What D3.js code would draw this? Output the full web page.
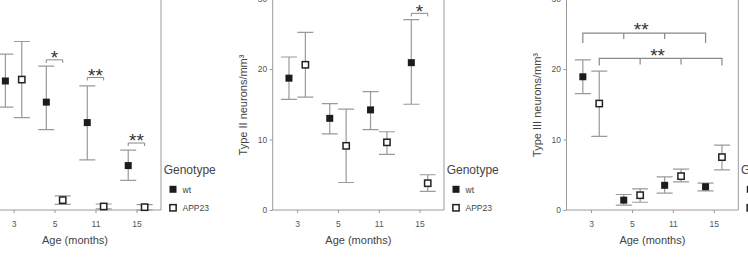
<!DOCTYPE html>
<html>
<head>
<meta charset="utf-8">
<script src="https://cdn.jsdelivr.net/npm/d3@7"></script>
<style>
  body { margin: 0; background: #fff; }
  svg { display: block; font-family: "Liberation Sans", Arial, sans-serif; }
</style>
</head>
<body>
<script>
'use strict';
// categories
const ages = ['3', '5', '11', '15'];
const genotypes = ['wt', 'APP23'];
const yTicks = [0, 10, 20, 30];

// Type I (panel partly cut off on the left)
const typeIWtMean = [18.3, 15.3, 12.4, 6.3];
const typeIWtLo = [14.6, 11.4, 7.1, 4.2];
const typeIWtHi = [22.1, 20.4, 17.6, 8.5];
const typeIAppMean = [18.5, 1.4, 0.5, 0.4];
const typeIAppLo = [13.1, 0.8, 0.15, 0.0];
const typeIAppHi = [23.9, 2.0, 0.85, 0.75];

// Type II
const typeIIWtMean = [18.7, 13.0, 14.2, 20.9];
const typeIIWtLo = [15.7, 10.8, 11.4, 15.0];
const typeIIWtHi = [21.7, 15.1, 16.8, 27.0];
const typeIIAppMean = [20.6, 9.1, 9.6, 3.8];
const typeIIAppLo = [16.0, 3.9, 7.9, 2.65];
const typeIIAppHi = [25.2, 14.3, 11.1, 5.0];

// Type III
const typeIIIWtMean = [18.9, 1.4, 3.5, 3.3];
const typeIIIWtLo = [16.5, 0.7, 2.4, 2.7];
const typeIIIWtHi = [21.3, 2.2, 4.7, 3.8];
const typeIIIAppMean = [15.1, 2.1, 4.8, 7.5];
const typeIIIAppLo = [10.45, 1.1, 4.0, 5.7];
const typeIIIAppHi = [19.7, 3.0, 5.8, 9.2];

// significance marks (bracket height in data units)
const typeISig = [{age: '5', label: '*', y: 21.3}, {age: '11', label: '**', y: 18.8}, {age: '15', label: '**', y: 9.5}];
const typeIISig = [{age: '15', label: '*', y: 27.9}];
const typeIIIGroupSig = [{genotype: 'wt', label: '**', y: 25.1}, {genotype: 'APP23', label: '**', y: 21.5}];

function series(mean, lo, hi){
  return ages.map((a, i) => ({age: a, mean: mean[i], lo: lo[i], hi: hi[i]}));
}

// the first panel's y axis lies outside the picture, so its labels are not drawn
const panels = [
  {left: -11, right: 161, title: 'Type I neurons/mm\u00b3', showY: false,
   wt: series(typeIWtMean, typeIWtLo, typeIWtHi), app: series(typeIAppMean, typeIAppLo, typeIAppHi),
   pairSig: typeISig, groupSig: []},
  {left: 272.7, right: 444, title: 'Type II neurons/mm\u00b3', showY: true,
   wt: series(typeIIWtMean, typeIIWtLo, typeIIWtHi), app: series(typeIIAppMean, typeIIAppLo, typeIIAppHi),
   pairSig: typeIISig, groupSig: []},
  {left: 566.5, right: 738.3, title: 'Type III neurons/mm\u00b3', showY: true,
   wt: series(typeIIIWtMean, typeIIIWtLo, typeIIIWtHi), app: series(typeIIIAppMean, typeIIIAppLo, typeIIIAppHi),
   pairSig: [], groupSig: typeIIIGroupSig},
];

const svg = d3.select(document.body).append('svg')
  .attr('width', 748).attr('height', 259);

const y = d3.scaleLinear().domain([0, 30]).range([210, -1.5]);
const dodge = {wt: -8.2, APP23: 8.2};
const grey = '#9a9a9a';

panels.forEach(drawPanel);

function stars(g, cx, yy, label){
  g.append('text').attr('x', cx).attr('y', yy + 4.3)
    .attr('text-anchor', 'middle').attr('fill', '#333').style('font-size', '19px')
    .text(label);
}

function drawPanel(p){
  const g = svg.append('g');
  const x = d3.scalePoint().domain(ages).range([p.left, p.right]).padding(0.6);
  const base = y(0);

  // frame: left, bottom, right (top is above the picture)
  g.append('path')
    .attr('d', `M${p.left},-20V${base}H${p.right}V-20`)
    .attr('fill', 'none').attr('stroke', grey).attr('stroke-width', 1);

  const axes = [];
  if (p.showY) {
    axes.push(g.append('g')
      .attr('transform', `translate(${p.left},0)`)
      .call(d3.axisLeft(y).tickValues(yTicks).tickSize(3).tickPadding(2.5)));
    g.append('text')
      .attr('transform', `translate(${p.left - 26},105) rotate(-90)`)
      .attr('text-anchor', 'middle').attr('fill', '#444').style('font-size', '11px')
      .text(p.title);
  }
  axes.push(g.append('g')
    .attr('transform', `translate(0,${base})`)
    .call(d3.axisBottom(x).tickSize(3).tickPadding(7.5)));
  axes.forEach(a => {
    a.select('.domain').remove();
    a.selectAll('.tick line').attr('stroke', grey);
    a.selectAll('.tick text').attr('fill', '#555').style('font-size', '8.5px')
      .style('font-family', '"Liberation Sans", Arial, sans-serif');
  });

  g.append('text')
    .attr('x', (p.left + p.right) / 2).attr('y', 244)
    .attr('text-anchor', 'middle').attr('fill', '#444').style('font-size', '11px')
    .text('Age (months)');

  // error bars, then markers on top
  [['wt', p.wt], ['APP23', p.app]].forEach(([gt, data]) => {
    const cx = d => x(d.age) + dodge[gt];
    const bars = g.append('g').attr('stroke', grey).attr('stroke-width', 1.2).attr('fill', 'none');
    bars.selectAll('path').data(data).enter().append('path')
      .attr('d', d => `M${cx(d)},${y(d.lo)}V${y(d.hi)}M${cx(d) - 8},${y(d.lo)}h16M${cx(d) - 8},${y(d.hi)}h16`);
  });
  [['wt', p.wt], ['APP23', p.app]].forEach(([gt, data]) => {
    const cx = d => x(d.age) + dodge[gt];
    const s = gt === 'wt' ? 7 : 6.3;
    g.append('g').selectAll('rect').data(data).enter().append('rect')
      .attr('x', d => cx(d) - s / 2).attr('y', d => y(d.mean) - s / 2)
      .attr('width', s).attr('height', s)
      .attr('fill', gt === 'wt' ? '#1c1c1c' : '#fff')
      .attr('stroke', gt === 'wt' ? 'none' : '#222')
      .attr('stroke-width', 1.5);
  });

  // pairwise brackets
  p.pairSig.forEach(s => {
    const x1 = x(s.age) + dodge.wt, x2 = x(s.age) + dodge.APP23, yy = y(s.y);
    g.append('path').attr('d', `M${x1},${yy + 3}V${yy}H${x2}V${yy + 3}`)
      .attr('fill', 'none').attr('stroke', '#888').attr('stroke-width', 1);
    stars(g, (x1 + x2) / 2, yy, s.label);
  });

  // group brackets across ages
  p.groupSig.forEach((s, i) => {
    const xs = ages.map(a => x(a) + dodge[s.genotype]);
    const yy = y(s.y), drop = i === 0 ? 10 : 7;
    let d = `M${xs[0]},${yy + drop}V${yy}H${xs[xs.length - 1]}V${yy + drop}`;
    xs.slice(1, -1).forEach(v => { d += `M${v},${yy}V${yy + 6}`; });
    g.append('path').attr('d', d).attr('fill', 'none').attr('stroke', '#888').attr('stroke-width', 1.2);
    stars(g, (xs[0] + xs[xs.length - 1]) / 2 - 3, yy - 1, s.label);
  });

  // legend
  const lg = g.append('g').attr('transform', `translate(${p.right},0)`);
  lg.append('text').attr('x', 2.7).attr('y', 173.5).attr('fill', '#444')
    .style('font-size', '12px').text('Genotype');
  const items = lg.selectAll('g.item').data(genotypes).enter().append('g')
    .attr('transform', (d, i) => `translate(0,${i === 0 ? 189.3 : 207.8})`);
  items.append('rect')
    .attr('x', d => d === 'wt' ? 8.5 : 8.85).attr('y', d => d === 'wt' ? -3.5 : -3.15)
    .attr('width', d => d === 'wt' ? 7 : 6.3).attr('height', d => d === 'wt' ? 7 : 6.3)
    .attr('fill', d => d === 'wt' ? '#1c1c1c' : '#fff')
    .attr('stroke', d => d === 'wt' ? 'none' : '#222').attr('stroke-width', 1.5);
  items.append('text').attr('x', 21.5).attr('y', 3.3).attr('fill', '#444')
    .style('font-size', '8.5px').text(d => d);
}
</script>
</body>
</html>
